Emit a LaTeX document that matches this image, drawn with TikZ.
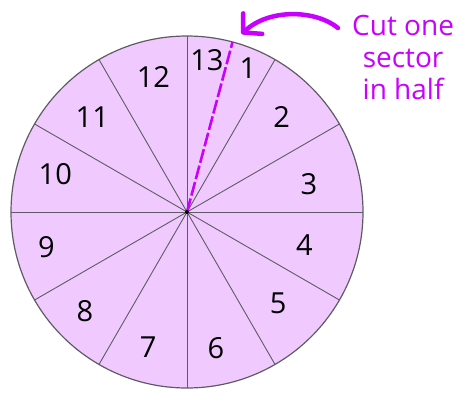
\documentclass[tikz,border=0pt]{standalone}
\usepackage{fontspec}
\setmainfont{Open Sans}
\usetikzlibrary{positioning,arrows.meta}

\definecolor{wheelfill}{RGB}{240,202,255}
\definecolor{wheelline}{RGB}{95,90,100}
\definecolor{notepurple}{RGB}{200,0,255}

\begin{document}
\begin{tikzpicture}[x=1pt,y=1pt,
  spoke/.style={draw=wheelline, line width=0.9pt},
  num/.style={font=\fontsize{29}{30}\selectfont, inner sep=0pt},
  note/.style={font=\fontsize{28}{32}\selectfont, text=notepurple, align=center, inner sep=0pt},
  halfcut/.style={draw=notepurple, line width=2.6pt, dash pattern=on 14pt off 3pt},
  pointer/.style={draw=notepurple, line width=4.5pt, line cap=round,
    -{Straight Barb[length=13pt,width=28pt,round]}}]
\useasboundingbox (-187,-182) rectangle (281,212);
\def\R{176}

% wheel
\coordinate (centre) at (0,0);
\fill[wheelfill] (centre) circle (\R);
\foreach \a in {0,30,...,330}
  \draw[spoke] (centre) -- (\a:\R);
\draw[wheelline, line width=1.2pt] (centre) circle (\R);

% cut line through the sector of 1 and 13
\coordinate (cutend) at (75:\R);
\draw[halfcut] (centre) -- (cutend);
\fill (centre) circle (2pt);

% sector numbers (angle / distance from centre)
\foreach \n/\a/\r in {13/82.5/153, 1/67/156, 2/45/134, 3/13/125, 4/-15.6/122,
    5/-45/129, 6/-78/139, 7/-106/141, 8/-136/142, 9/-166/145, 10/164/137,
    11/135/134, 12/104/139}
  \node[num] (s\n) at (\a:\r) {\n};

% note with curved arrow
\node[note, anchor=north west] (cut) at (165,197) {Cut one\\sector\\in half};
\coordinate (tip) at ([shift={(9,8)}]cutend);
\draw[pointer] ([shift={(-14,-13)}]cut.north west)
  .. controls +(-22,18) and +(28,26) .. (tip);

\end{tikzpicture}
\end{document}
